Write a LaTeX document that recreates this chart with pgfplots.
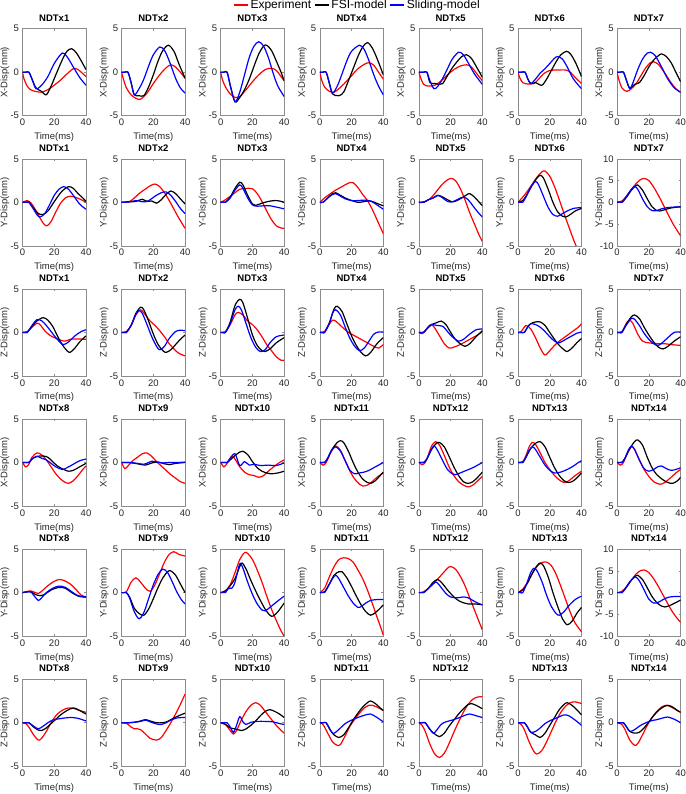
\documentclass[border=0pt]{standalone}
\usepackage{fontspec}
\setmainfont{Liberation Sans}
\usepackage{pgfplots}
\pgfplotsset{compat=1.18}
\definecolor{axgray}{gray}{0.55}
\pgfplotsset{
 panel/.style={
  scale only axis, width=63.5pt, height=87pt, anchor=south west,
  xmin=0, xmax=40, ymin=-5, ymax=5, xtick={0,20,40}, ytick distance=5,
  tick align=inside, major tick length=2pt,
  axis line style={axgray, line width=0.5pt},
  every tick/.style={axgray, line width=0.5pt},
  tick label style={font=\fontsize{9.5}{10}\selectfont, text=black!85},
  /pgf/number format/assume math mode=true,
  xlabel={Time(ms)},
  label style={font=\fontsize{9.5}{10}\selectfont, text=black!85},
  xlabel style={at={(axis description cs:0.5,0)}, anchor=center, yshift=-21.6pt},
  ylabel style={at={(axis description cs:0,0.5)}, anchor=center, yshift=17.5pt},
  title style={font=\bfseries\fontsize{9.5}{10}\selectfont, yshift=-2pt},
  every axis plot/.append style={line width=1.2pt, smooth, no markers},
  legend image code/.code={\draw[##1] (0pt,0pt) -- (14pt,0pt);},
 },
}
\newcommand{\panel}[8][]{%
 \begin{axis}[panel, at={({(22.5+99.1*#2)*1pt},{-(115.7+130.1*#3)*1pt})}, title={#4}, ylabel={#5}, #1]
 \addplot[red] coordinates {#6};
 \addplot[black] coordinates {#7};
 \addplot[blue] coordinates {#8};
 \end{axis}}
\begin{document}
\begin{tikzpicture}
\useasboundingbox (0pt,0pt) rectangle (685pt,-794pt);
% ---------------- Row 0 : X, NDTx1-7
\panel{0}{0}{NDTx1}{X-Disp(mm)}
{(0,0)(1,-0.8)(3,-1.6)(5,-2.0)(8,-2.2)(12,-2.3)(16,-2.0)(20,-1.5)(24,-0.9)(28,-0.2)(32,0.4)(35,0.3)(40,-0.5)}
{(0,0)(2,0)(4,0)(6,-0.8)(8.5,-1.8)(12,-2.2)(15,-2.6)(18,-1.6)(21,-0.3)(25,1.4)(28,2.4)(31,2.7)(34,2.2)(37,1.3)(40,0.3)}
{(0,0)(2,0)(4,0)(6,-0.8)(8.5,-1.9)(12,-1.5)(16,-0.5)(20,1.0)(25,2.2)(28,1.8)(32,0.6)(36,-0.6)(40,-1.5)}
\panel{1}{0}{NDTx2}{X-Disp(mm)}
{(0,0)(1,-0.7)(3,-1.8)(6,-2.6)(9,-3.0)(12,-3.1)(16,-2.4)(20,-1.3)(24,-0.3)(28,0.5)(31,0.85)(34,0.6)(37,0)(40,-0.7)}
{(0,0)(2,0)(4,0)(6,-1.2)(8,-2.6)(11,-2.7)(14,-2.7)(17,-1.7)(20,-0.3)(23,1.3)(26,2.5)(29.5,3.1)(33,2.4)(36,1.0)(40,-0.7)}
{(0,0)(2,0)(4,0)(6,-1.2)(8,-2.6)(11,-1.9)(14,-0.8)(17,0.7)(20,2.0)(24,2.9)(27,2.5)(30,1.3)(34,-0.7)(37,-1.8)(40,-2.4)}
\panel{2}{0}{NDTx3}{X-Disp(mm)}
{(0,0)(1,-0.8)(3,-1.7)(6,-2.5)(9,-2.9)(12,-2.8)(16,-2.0)(20,-1.1)(24,-0.3)(28,0.3)(32,0.45)(35,0.2)(38,-0.5)(40,-1.0)}
{(0,0)(2,0)(4,0)(6,-1.5)(9,-3.4)(12,-2.9)(15,-2.0)(18,-0.8)(21,0.7)(24,2.1)(27,3.0)(29,3.1)(32,2.5)(35,1.3)(38,0)(40,-1.0)}
{(0,0)(2,0)(4,0)(6,-1.5)(9,-3.4)(12,-2.3)(15,-0.3)(18,1.7)(21,3.0)(24,3.5)(27,3.0)(30,1.7)(33,-0.1)(36,-1.6)(40,-2.8)}
\panel[legend entries={Experiment,FSI-model,Sliding-model}, legend style={at={(0.594,1.272)}, anchor=center, draw=none, fill=none, legend columns=-1, font=\fontsize{12}{13}\selectfont, inner sep=0pt, /tikz/every even column/.append style={column sep=1pt}}]{3}{0}{NDTx4}{X-Disp(mm)}
{(0,0)(1,-0.8)(3,-1.7)(6,-2.2)(9,-2.3)(12,-1.9)(16,-1.2)(20,-0.4)(24,0.4)(28,0.9)(31,1.1)(34,0.8)(37,0)(40,-0.8)}
{(0,0)(2,0)(4,0)(6,-1.3)(8,-2.5)(12,-2.7)(15,-2.3)(18,-1.0)(21,0.4)(24,1.8)(27,2.9)(30,3.4)(33,2.8)(36,1.6)(40,-0.3)}
{(0,0)(2,0)(4,0)(6,-1.2)(8,-2.4)(11,-1.6)(14,-0.2)(17,1.3)(20,2.4)(25,3.1)(28,2.6)(31,1.3)(34,-0.3)(37,-1.6)(40,-2.6)}
\panel{4}{0}{NDTx5}{X-Disp(mm)}
{(0,0)(1,-0.6)(3,-1.4)(6,-1.6)(10,-1.5)(14,-1.0)(18,-0.3)(22,0.3)(26,0.7)(30,0.85)(33,0.6)(37,-0.3)(40,-1.0)}
{(0,0)(3,0)(5,0)(7,-1.2)(10,-1.3)(13,-1.4)(15,-1.3)(18,-0.4)(21,0.5)(24,1.2)(27,1.8)(30,2.0)(33,1.6)(36,0.7)(40,-0.6)}
{(0,0)(3,0)(5,0)(7,-1.0)(9.5,-1.9)(12,-1.6)(15,-0.7)(18,0.4)(21,1.5)(25,2.3)(28,2.0)(31,1.1)(35,-0.2)(40,-1.4)}
\panel{5}{0}{NDTx6}{X-Disp(mm)}
{(0,0)(1,-0.6)(3,-1.2)(6,-1.35)(10,-1.3)(13,-0.8)(16,-0.2)(20,0.2)(25,0.25)(30,0.25)(33,0)(36,-0.6)(40,-1.3)}
{(0,0)(2,0)(4.5,0)(6,-0.7)(8,-1.3)(11,-1.2)(15,-1.5)(18,-0.8)(21,0.2)(24,1.2)(27,2.0)(30.5,2.4)(33,2.1)(36,1.2)(40,-0.5)}
{(0,0)(2,0)(4.5,0)(6,-0.7)(8,-1.3)(11,-0.8)(14,-0.1)(17,0.4)(20,1.0)(23,1.6)(25,1.8)(28,1.5)(31,0.6)(35,-0.8)(40,-1.9)}
\panel{6}{0}{NDTx7}{X-Disp(mm)}
{(0,0)(1,-0.8)(3,-1.8)(6,-2.2)(9,-1.9)(12,-1.3)(15,-0.4)(18,0.5)(21,1.1)(23,1.2)(26,0.9)(30,-0.1)(34,-1.2)(37,-1.9)(40,-2.3)}
{(0,0)(2,0)(4,0)(6,-1.0)(8,-1.8)(11,-1.4)(14,-1.2)(17,-0.4)(20,0.6)(23,1.4)(26,1.9)(28,2.1)(31,1.8)(34,1.1)(37,0)(40,-1.1)}
{(0,0)(2,0)(4,0)(6,-1.0)(8,-1.9)(10,-1.2)(13,0.3)(16,1.5)(19,2.2)(21,2.3)(24,1.9)(28,0.6)(32,-0.8)(36,-1.8)(40,-2.3)}
% ---------------- Row 1 : Y, NDTx1-7
\panel{0}{1}{NDTx1}{Y-Disp(mm)}
{(0,0)(3,0.2)(5,0)(8,-0.8)(11,-1.8)(13.5,-2.5)(15.5,-2.7)(18,-2.2)(21,-1.1)(24,-0.1)(27,0.5)(30,0.7)(33,0.6)(37,0.3)(40,0)}
{(0,0)(2,0)(4,0)(7,-0.7)(10,-1.3)(13,-1.4)(16,-1.0)(19,-0.2)(22,0.6)(25,1.3)(29,1.8)(32,1.6)(35,1.0)(38,0.5)(40,0.1)}
{(0,0)(2,0)(4,0)(7,-0.8)(9,-1.4)(11,-1.7)(14,-1.3)(17,-0.3)(20,0.8)(23,1.5)(26,1.8)(29,1.5)(32,0.8)(36,-0.2)(40,-0.8)}
\panel{1}{1}{NDTx2}{Y-Disp(mm)}
{(0,0)(5,0.1)(8,0.5)(11,1.0)(14,1.4)(18,1.9)(21,2.1)(24,1.8)(27,1.1)(30,0.2)(33,-0.8)(36,-1.8)(40,-3.0)}
{(0,0)(5,0.05)(9,0.1)(13,0.35)(16,0.1)(19,0.15)(22,-0.1)(25,0.3)(28,0.9)(31,1.3)(34,1.0)(37,0.4)(40,-0.2)}
{(0,0)(5,0.05)(9,0.2)(12,0.1)(15,0.05)(18,0.3)(21,0.7)(25,1.1)(28,1.2)(31,0.8)(34,0.1)(37,-0.7)(40,-1.3)}
\panel{2}{1}{NDTx3}{Y-Disp(mm)}
{(0,0)(3,0.3)(6,0.7)(9,1.1)(12,1.5)(16,1.6)(20,1.55)(23,1.0)(26,0.1)(29,-1.0)(32,-2.0)(35,-2.7)(38,-2.95)(40,-3.0)}
{(0,0)(1.5,0)(3,0)(6,0.6)(9,1.6)(12,2.3)(14,2.0)(17,0.8)(20,-0.2)(22,-0.35)(26,-0.1)(30,0.1)(34,0.2)(37,0.15)(40,0)}
{(0,0)(1.5,0)(3,0)(6,0.5)(9,1.4)(12,2.0)(14,1.6)(17,0.5)(20,-0.3)(23,-0.45)(27,-0.4)(31,-0.4)(35,-0.55)(40,-0.75)}
\panel{3}{1}{NDTx4}{Y-Disp(mm)}
{(0,0)(3,0.5)(6,0.9)(10,1.4)(14,1.8)(18,2.2)(21,2.25)(24,1.7)(27,0.9)(30,0.2)(33,-0.8)(36,-2.0)(38,-2.8)(40,-3.6)}
{(0,0)(2,0)(5,0.5)(8,1.0)(10,1.1)(13,0.8)(16,0.5)(20,0.2)(24,0)(27,0.05)(30,0.15)(33,0.1)(37,-0.2)(40,-0.4)}
{(0,0)(2,0)(5,0.5)(8,0.9)(10,1.0)(13,0.7)(16,0.4)(20,0.2)(24,0.2)(28,0.25)(32,0.15)(36,-0.3)(40,-0.8)}
\panel{4}{1}{NDTx5}{Y-Disp(mm)}
{(0,0)(4,0.1)(7,0.4)(10,1.0)(13,1.7)(16,2.3)(20,2.75)(23,2.5)(26,1.6)(29,0.3)(32,-1.2)(35,-2.5)(38,-3.8)(40,-4.5)}
{(0,0)(3,0)(6,0.3)(9,0.5)(12,0.8)(15,0.6)(18,0.3)(21,0.05)(24,0.2)(27,0.5)(30,0.85)(32,1.0)(35,0.6)(38,0)(40,-0.4)}
{(0,0)(3,0)(6,0.3)(9,0.5)(12,0.8)(15,0.5)(18,0.1)(21,0.05)(24,0.3)(28,0.6)(31,0.3)(34,-0.4)(37,-1.1)(40,-1.7)}
\panel{5}{1}{NDTx6}{Y-Disp(mm)}
{(0,0)(3,0.6)(6,1.3)(9,2.1)(12,2.9)(15,3.5)(17,3.6)(20,3.0)(23,1.8)(26,0.3)(29,-1.3)(32,-2.8)(35,-4.3)(38,-5.6)(40,-6.3)}
{(0,0)(3,0.2)(6,1.0)(9,2.0)(12,2.8)(14,3.1)(16,2.8)(19,1.5)(22,0)(25,-1.1)(28,-1.6)(30,-1.7)(33,-1.4)(36,-1.0)(40,-0.7)}
{(0,0)(1.5,0)(3,0)(5,0.6)(8,1.7)(11,2.4)(13,2.0)(16,0.7)(19,-0.6)(22,-1.4)(25,-1.6)(28,-1.3)(31,-1.0)(35,-0.7)(40,-0.6)}
\panel[ymin=-10, ymax=10]{6}{1}{NDTx7}{Y-Disp(mm)}
{(0,0)(3,0.3)(6,1.5)(9,3.0)(12,4.3)(15,5.3)(17,5.5)(20,5.0)(23,3.5)(26,1.6)(29,-0.5)(32,-2.7)(35,-4.8)(38,-6.6)(40,-7.7)}
{(0,0)(1.5,0)(3,0)(6,1.2)(9,2.8)(12,3.9)(13,4.0)(16,2.8)(19,0.8)(22,-1.0)(25,-1.9)(27,-2.0)(30,-1.7)(34,-1.3)(40,-1.0)}
{(0,0)(1.5,0)(3,0)(5,0.8)(8,2.5)(11,3.6)(13,3.0)(16,0.8)(19,-1.0)(22,-1.9)(25,-1.9)(28,-1.5)(32,-1.2)(36,-1.1)(40,-1.1)}
% ---------------- Row 2 : Z, NDTx1-7
\panel{0}{2}{NDTx1}{Z-Disp(mm)}
{(0,0)(3,0.1)(6,0.6)(9,1.05)(11,0.9)(14,0.2)(17,-0.3)(20,-0.6)(24,-0.9)(27,-1.0)(30,-0.8)(35,-0.75)(40,-0.8)}
{(0,0)(1.5,0)(3,0)(6,0.7)(9,1.3)(13,1.7)(16,1.4)(19,0.7)(22,-0.4)(25,-1.4)(28,-2.1)(30,-2.3)(33,-1.8)(36,-1.1)(40,-0.4)}
{(0,0)(1.5,0)(3,0)(6,0.8)(9,1.45)(12,1.35)(15,0.8)(18,0.1)(21,-0.6)(24,-1.2)(26,-1.4)(29,-1.1)(33,-0.4)(37,0.1)(40,0.3)}
\panel{1}{2}{NDTx2}{Z-Disp(mm)}
{(0,0)(3,0.1)(6,0.8)(9,2.0)(12,2.6)(15,2.0)(18,1.3)(21,0.8)(24,0.2)(27,-0.5)(30,-1.3)(33,-1.9)(36,-2.4)(40,-2.7)}
{(0,0)(1.5,0)(3,0)(6,0.8)(9,2.2)(12,2.9)(14,2.6)(17,1.3)(20,-0.2)(23,-1.4)(26,-2.1)(28,-2.3)(31,-2.0)(34,-1.4)(37,-0.8)(40,-0.3)}
{(0,0)(1.5,0)(3,0)(6,0.8)(9,2.1)(11,2.5)(13,2.2)(16,0.9)(19,-0.5)(22,-1.6)(24,-2.0)(27,-1.6)(30,-0.7)(34,0.1)(37,0.25)(40,0.2)}
\panel{2}{2}{NDTx3}{Z-Disp(mm)}
{(0,0)(3,0.1)(6,0.9)(9,2.0)(11,2.3)(14,2.0)(17,1.3)(20,0.9)(23,0.3)(26,-0.5)(29,-1.4)(32,-2.1)(35,-2.8)(38,-3.2)(40,-3.2)}
{(0,0)(1.5,0)(3,0)(6,1.2)(9,3.1)(12,3.8)(14,3.4)(17,1.6)(20,-0.3)(23,-1.5)(26,-2.1)(28,-2.2)(31,-1.9)(35,-1.2)(40,-0.6)}
{(0,0)(1.5,0)(3,0)(6,1.0)(9,2.6)(11,3.0)(13,2.6)(16,1.0)(19,-0.6)(22,-1.7)(25,-2.2)(28,-2.0)(31,-1.2)(35,-0.5)(40,-0.3)}
\panel{3}{2}{NDTx4}{Z-Disp(mm)}
{(0,0)(3,0.1)(5,0.7)(8,1.4)(10,1.3)(13,0.8)(16,0.3)(19,-0.1)(22,-0.4)(25,-0.7)(28,-1.0)(31,-1.3)(34,-1.6)(37,-1.8)(40,-1.4)}
{(0,0)(1.5,0)(3,0)(6,1.1)(9,2.7)(11,3.0)(14,2.4)(17,1.0)(20,-0.4)(23,-1.5)(26,-2.3)(29,-2.7)(32,-2.3)(36,-1.3)(40,-0.6)}
{(0,0)(1.5,0)(3,0)(6,1.0)(8,2.2)(10,2.6)(13,2.0)(16,0.6)(19,-0.7)(22,-1.6)(25,-2.1)(28,-1.8)(31,-1.0)(34,-0.2)(37,0.05)(40,0.05)}
\panel{4}{2}{NDTx5}{Z-Disp(mm)}
{(0,0)(2,-0.15)(4,0.2)(6,0.7)(8,0.9)(10,0.5)(13,-0.4)(16,-1.3)(19,-1.8)(22,-1.7)(26,-1.4)(30,-1.0)(34,-0.6)(37,-0.3)(40,0.1)}
{(0,0)(1.5,0)(3,0)(5,0.4)(8,0.9)(11,1.1)(14,1.3)(17,0.9)(20,0)(23,-0.8)(26,-1.3)(29,-1.6)(32,-1.3)(36,-0.5)(40,0.2)}
{(0,0)(1.5,0)(3,0)(5,0.4)(8,0.9)(11,0.8)(15,0.7)(18,0.1)(21,-0.5)(25,-1.0)(28,-0.8)(32,-0.2)(36,0.3)(40,0.4)}
\panel{5}{2}{NDTx6}{Z-Disp(mm)}
{(0,0)(2,0.1)(5,0.8)(8,0.4)(11,-0.6)(14,-1.8)(17,-2.6)(20,-2.1)(23,-1.5)(26,-1.0)(29,-0.6)(32,-0.2)(35,0.2)(38,0.6)(40,1.0)}
{(0,0)(2,0)(4,0)(6,0.6)(8,1.0)(11,1.2)(14,1.2)(17,0.8)(20,0)(23,-0.8)(26,-1.5)(29,-2.0)(31,-2.2)(34,-1.8)(37,-1.2)(40,-0.7)}
{(0,0)(2,0)(4,0)(6,0.6)(8,1.0)(11,0.9)(14,0.6)(17,0.1)(20,-0.5)(23,-1.0)(26,-1.2)(30,-0.8)(34,-0.4)(37,-0.1)(40,0.05)}
\panel{6}{2}{NDTx7}{Z-Disp(mm)}
{(0,0)(3,0.1)(6,1.1)(8,1.4)(10,1.0)(13,-0.2)(16,-1.0)(20,-1.2)(25,-1.3)(30,-1.3)(34,-1.4)(37,-1.45)(40,-1.5)}
{(0,0)(1.5,0)(3,0)(6,1.0)(9,1.8)(11,2.0)(14,1.6)(17,0.6)(20,-0.3)(23,-1.1)(26,-1.7)(29,-1.9)(32,-1.6)(36,-1.0)(40,-0.5)}
{(0,0)(1.5,0)(3,0)(6,0.9)(9,1.6)(11,1.5)(14,0.8)(17,-0.1)(20,-0.8)(23,-1.3)(26,-1.5)(29,-1.1)(32,-0.6)(36,0)(40,0.05)}
% ---------------- Row 3 : X, NDTx8-14
\panel{0}{3}{NDTx8}{X-Disp(mm)}
{(0,0)(2,-0.5)(4,-0.2)(6,0.6)(9,1.1)(12,0.9)(15,0.3)(18,-0.5)(21,-1.3)(24,-1.9)(27,-2.3)(29,-2.4)(32,-2.1)(35,-1.5)(38,-0.8)(40,-0.4)}
{(0,0)(2,0)(4,0)(6,0.4)(9,0.7)(13,0.75)(16,0.6)(19,0.1)(22,-0.4)(26,-0.8)(29,-1.0)(32,-0.9)(36,-0.5)(40,-0.1)}
{(0,0)(2,0)(4,0)(6,0.4)(9,0.7)(12,0.5)(15,0.3)(18,-0.1)(21,-0.5)(25,-0.8)(28,-0.6)(32,-0.2)(36,0.2)(40,0.4)}
\panel{1}{3}{NDTx9}{X-Disp(mm)}
{(0,0)(2,-0.7)(4,-0.4)(7,0.2)(10,0.6)(13,1.0)(16,1.1)(19,0.7)(22,0.1)(25,-0.4)(28,-0.9)(31,-1.4)(34,-1.8)(37,-2.2)(40,-2.4)}
{(0,0)(5,0)(10,-0.15)(15,-0.3)(19,-0.05)(23,0.05)(27,-0.15)(30,-0.25)(34,-0.1)(40,0)}
{(0,0)(5,0)(10,-0.1)(14,-0.2)(17,0)(19,0.15)(22,0.05)(26,-0.05)(30,0)(35,0)(40,0.05)}
\panel{2}{3}{NDTx10}{X-Disp(mm)}
{(0,0)(2,-0.5)(4,-0.1)(7,0.7)(9,0.4)(12,-0.5)(15,-1.1)(18,-1.4)(21,-1.5)(24,-1.7)(27,-1.5)(30,-1.0)(34,-0.4)(37,0)(40,0.3)}
{(0,0)(2,0)(4,0)(6,0.3)(9,0.8)(12,1.2)(14,1.3)(17,0.9)(20,0.1)(23,-0.6)(26,-1.0)(29,-1.2)(32,-1.3)(36,-1.2)(40,-1.0)}
{(0,0)(2,0)(4,0)(6,0.5)(9,1.0)(12,-0.35)(15,0.1)(18,-0.3)(21,-0.2)(25,-0.35)(30,-0.3)(35,-0.35)(40,-0.05)}
\panel{3}{3}{NDTx11}{X-Disp(mm)}
{(0,0)(2,-0.3)(4,0)(7,1.2)(10,1.9)(13,1.4)(16,0.2)(19,-1.0)(22,-1.9)(25,-2.5)(27,-2.7)(30,-2.6)(33,-2.2)(36,-1.7)(40,-1.2)}
{(0,0)(1.5,0)(3,0)(5,0.5)(8,1.6)(11,2.3)(13,2.5)(15,2.3)(18,1.3)(21,0)(24,-1.1)(27,-1.9)(30,-2.3)(32,-2.4)(35,-2.1)(38,-1.5)(40,-1.1)}
{(0,0)(1.5,0)(3,0)(5,0.5)(7,1.3)(10,1.8)(13,1.3)(16,0.2)(19,-0.9)(22,-1.3)(25,-1.2)(28,-1.1)(31,-0.9)(34,-0.6)(37,-0.3)(40,0)}
\panel{4}{3}{NDTx12}{X-Disp(mm)}
{(0,0)(2,-0.25)(4,0)(6,0.9)(8,1.9)(10.5,2.4)(13,2.0)(16,0.8)(19,-0.5)(22,-1.5)(25,-2.2)(28,-2.6)(31,-2.8)(34,-2.6)(37,-2.1)(40,-1.6)}
{(0,0)(1.5,0)(3,0)(5,0.4)(8,1.5)(11,2.2)(13,2.3)(16,1.8)(19,0.7)(22,-0.5)(25,-1.5)(28,-2.2)(31,-2.4)(34,-2.2)(37,-1.7)(40,-1.1)}
{(0,0)(1.5,0)(3,0)(5,0.4)(7,1.2)(9.5,1.9)(12,1.3)(15,0.2)(18,-0.8)(21,-1.3)(23,-1.4)(26,-1.2)(30,-0.9)(34,-0.6)(37,-0.3)(40,0)}
\panel{5}{3}{NDTx13}{X-Disp(mm)}
{(0,0)(3,0.1)(5,0.8)(7,1.8)(9,2.3)(11,2.1)(14,1.1)(17,0)(20,-0.8)(23,-1.5)(26,-2.0)(29,-2.3)(32,-2.1)(36,-1.5)(40,-1.0)}
{(0,0)(1.5,0)(3,0)(5,0.6)(8,1.6)(11,2.2)(14,2.4)(17,1.8)(20,0.6)(23,-0.6)(26,-1.5)(29,-2.1)(32,-2.3)(35,-2.1)(38,-1.6)(40,-1.2)}
{(0,0)(1.5,0)(3,0)(5,0.6)(7,1.4)(9,1.8)(11,1.5)(14,0.6)(17,-0.3)(20,-0.9)(23,-1.2)(27,-1.1)(31,-0.8)(35,-0.4)(38,0)(40,0.2)}
\panel{6}{3}{NDTx14}{X-Disp(mm)}
{(0,0)(2,-0.3)(4,0)(6,0.9)(9,1.8)(11,1.5)(14,0.3)(17,-0.8)(20,-1.6)(23,-2.2)(27,-2.5)(30,-2.3)(34,-1.7)(37,-1.2)(40,-0.8)}
{(0,0)(1.5,0)(3,0)(5,0.5)(8,1.6)(11,2.4)(13,2.6)(16,2.0)(19,0.6)(22,-0.6)(25,-1.4)(29,-2.0)(32,-2.3)(35,-2.4)(38,-2.1)(40,-1.7)}
{(0,0)(1.5,0)(3,0)(5,0.5)(7,1.4)(9,1.9)(11,1.5)(14,0.3)(17,-0.7)(20,-1.0)(23,-0.8)(26,-0.45)(28,-0.4)(31,-0.7)(34,-0.9)(37,-0.8)(40,-0.6)}
% ---------------- Row 4 : Y, NDTx8-14
\panel{0}{4}{NDTx8}{Y-Disp(mm)}
{(0,0)(5,0.2)(8,0)(10,-0.1)(13,0.3)(16,0.8)(20,1.3)(23,1.5)(26,1.4)(30,1.0)(34,0.3)(37,-0.3)(40,-0.5)}
{(0,0)(5,0.1)(8,-0.2)(11,-0.35)(14,-0.2)(18,0.3)(23,0.6)(27,0.5)(31,0)(35,-0.4)(38,-0.5)(40,-0.5)}
{(0,0)(5,0.1)(7,-0.3)(10,-0.9)(12,-0.6)(15,0)(19,0.5)(23,0.75)(27,0.6)(31,0.1)(35,-0.35)(40,-0.5)}
\panel{1}{4}{NDTx9}{Y-Disp(mm)}
{(0,0)(3,0.1)(6,1.2)(9,1.7)(12,1.2)(15,0.5)(18,0.15)(21,0.9)(24,2.2)(27,3.5)(30,4.4)(33,4.7)(36,4.4)(40,4.2)}
{(0,0)(1.5,0)(3,0)(5,-0.5)(8,-1.8)(11,-2.4)(14,-2.6)(17,-1.9)(20,-0.7)(23,0.6)(26,1.7)(29,2.4)(31,2.5)(34,2.0)(37,1.0)(40,0)}
{(0,0)(1.5,0)(3,0)(5,-0.6)(8,-2.2)(11,-3.0)(14,-2.3)(17,-0.7)(20,0.9)(23,2.1)(26,2.7)(29,2.3)(32,1.2)(35,0)(38,-0.9)(40,-1.3)}
\panel{2}{4}{NDTx10}{Y-Disp(mm)}
{(0,0)(3,0.2)(6,0.9)(9,2.3)(12,3.8)(15,4.6)(17,4.5)(20,3.8)(23,2.6)(26,1.2)(29,-0.4)(32,-1.9)(35,-3.2)(38,-4.4)(40,-5.0)}
{(0,0)(3,0.2)(6,0.8)(9,1.6)(12,3.0)(13.5,3.4)(16,2.7)(19,1.4)(22,0.2)(25,-0.9)(28,-1.9)(31,-2.6)(33,-2.7)(36,-2.2)(40,-1.2)}
{(0,0)(1.5,0)(3,0)(5,0.5)(7,0.5)(9,1.2)(12,3.3)(14,2.8)(17,1.2)(20,-0.2)(23,-1.3)(26,-2.0)(28,-2.1)(31,-1.7)(35,-1.1)(40,-0.4)}
\panel{3}{4}{NDTx11}{Y-Disp(mm)}
{(0,0)(3,0.5)(6,1.8)(9,3.0)(12,3.8)(15,4.0)(18,3.9)(21,3.5)(24,2.6)(27,1.6)(30,0.3)(33,-1.2)(36,-2.8)(38,-3.8)(40,-4.9)}
{(0,0)(3,0.1)(6,1.0)(9,2.0)(12,2.4)(14,2.4)(17,1.7)(20,0.7)(23,-0.4)(26,-1.4)(29,-2.2)(32,-2.6)(35,-2.3)(38,-1.8)(40,-1.4)}
{(0,0)(1.5,0)(3,0)(5,0.6)(8,1.6)(10,2.0)(12,1.6)(15,0.6)(18,-0.4)(21,-1.2)(24,-1.7)(26,-1.6)(29,-1.2)(32,-0.9)(36,-0.8)(40,-0.8)}
\panel{4}{4}{NDTx12}{Y-Disp(mm)}
{(0,0)(3,0.1)(6,0.5)(9,1.0)(12,1.6)(15,2.2)(18,2.8)(20,3.0)(23,2.7)(26,1.9)(29,0.8)(32,-0.6)(35,-2.0)(38,-3.4)(40,-4.3)}
{(0,0)(1.5,0)(3,0)(6,0.5)(9,1.2)(12,1.5)(15,1.0)(18,0.3)(21,-0.3)(24,-0.8)(27,-1.1)(31,-1.3)(35,-1.3)(40,-1.4)}
{(0,0)(1.5,0)(3,0)(6,0.5)(9,1.0)(11,1.2)(14,0.6)(17,-0.1)(20,-0.5)(24,-0.6)(28,-0.5)(31,-0.6)(34,-0.9)(37,-1.2)(40,-1.4)}
\panel{5}{4}{NDTx13}{Y-Disp(mm)}
{(0,0)(3,0.4)(6,1.2)(9,2.2)(12,3.0)(15,3.45)(18,3.5)(21,3.1)(24,2.1)(27,0.7)(30,-0.8)(33,-2.3)(36,-3.5)(40,-4.5)}
{(0,0)(3,0.3)(6,1.1)(9,2.2)(12,3.1)(14,3.4)(16,3.1)(19,1.8)(22,0)(25,-1.6)(28,-3.0)(31,-3.7)(34,-3.3)(37,-2.4)(40,-1.7)}
{(0,0)(1.5,0)(3,0)(5,0.8)(8,2.3)(10,2.8)(12,2.5)(15,1.3)(18,-0.3)(21,-1.6)(24,-2.4)(26,-2.6)(29,-2.2)(32,-1.5)(36,-0.8)(40,-0.4)}
\panel[ymin=-10, ymax=10]{6}{4}{NDTx14}{Y-Disp(mm)}
{(0,0)(3,0.3)(6,1.4)(9,2.9)(12,4.3)(15,5.1)(17,5.2)(20,4.6)(23,3.2)(26,1.4)(29,-0.6)(32,-2.6)(35,-4.5)(38,-6.0)(40,-6.8)}
{(0,0)(1.5,0)(3,0)(6,1.3)(9,2.9)(12,3.9)(13,4.0)(16,3.0)(19,1.1)(22,-0.9)(25,-2.3)(28,-3.1)(30,-3.3)(33,-3.0)(37,-2.3)(40,-1.7)}
{(0,0)(1.5,0)(3,0)(5,0.8)(8,2.5)(11.5,3.6)(14,2.7)(17,0.6)(20,-1.5)(23,-2.4)(26,-2.2)(29,-1.6)(32,-1.1)(36,-0.9)(40,-0.9)}
% ---------------- Row 5 : Z, NDTx8-14
\panel{0}{5}{NDTx8}{Z-Disp(mm)}
{(0,0)(2,-0.1)(4,-0.5)(7,-1.4)(10,-2.0)(12,-1.8)(15,-1.0)(18,0)(21,0.8)(24,1.3)(27,1.6)(30,1.7)(33,1.6)(36,1.4)(40,1.2)}
{(0,0)(2,0)(4,0)(7,-0.5)(10,-0.85)(12,-0.9)(15,-0.6)(18,-0.1)(21,0.4)(24,0.9)(28,1.4)(32,1.7)(35,1.5)(38,1.2)(40,1.0)}
{(0,0)(2,0)(4,0)(7,-0.4)(10,-0.7)(13,-0.4)(16,0)(19,0.3)(23,0.45)(27,0.55)(31,0.6)(35,0.5)(40,0.2)}
\panel{1}{5}{NDTx9}{Z-Disp(mm)}
{(0,0)(3,-0.05)(6,-0.5)(8,-0.7)(10,-0.7)(12,-0.8)(15,-1.3)(18,-1.8)(22,-2.0)(25,-1.7)(28,-0.9)(31,0)(34,1.0)(37,2.1)(40,3.3)}
{(0,0)(5,0)(8,0.05)(12,0.2)(15,0.35)(18,0.2)(22,0)(26,0)(29,0.15)(32,0.45)(36,0.8)(40,1.1)}
{(0,0)(5,0)(8,0.05)(12,0.15)(15,0.3)(18,0.1)(22,-0.15)(25,-0.2)(28,0)(31,0.3)(35,0.55)(40,0.6)}
\panel{2}{5}{NDTx10}{Z-Disp(mm)}
{(0,0)(3,-0.2)(6,-0.9)(8,-1.3)(10,-0.9)(13,0.3)(16,1.3)(19,2.0)(22,2.3)(25,2.0)(28,1.3)(31,0.6)(34,-0.1)(37,-0.7)(40,-1.2)}
{(0,0)(3,-0.2)(6,-0.6)(9,-0.7)(13,-0.9)(16,-0.7)(19,-0.3)(22,0.2)(25,0.8)(28,1.3)(31,1.5)(34,1.3)(37,1.0)(40,0.6)}
{(0,0)(2,0)(4,0)(6,-0.5)(8,-1.1)(10,-0.3)(12,0.7)(14,0.1)(16,-0.2)(19,0.05)(23,0.15)(28,0.15)(33,0.1)(37,-0.1)(40,-0.2)}
\panel{3}{5}{NDTx11}{Z-Disp(mm)}
{(0,0)(2,-0.2)(5,-1.2)(8,-2.2)(11,-2.6)(13,-2.5)(16,-1.5)(19,-0.4)(22,0.4)(25,1.1)(28,1.7)(31,2.0)(33,2.0)(36,1.8)(40,1.4)}
{(0,0)(2,0)(4,0)(6,-0.7)(9,-1.4)(12,-1.7)(15,-1.4)(18,-0.6)(21,0.3)(24,1.1)(27,1.8)(30,2.3)(32,2.5)(35,2.2)(38,1.7)(40,1.4)}
{(0,0)(2,0)(4,0)(6,-0.6)(8,-1.2)(10,-1.1)(13,-0.6)(16,-0.1)(20,0.3)(24,0.6)(28,0.85)(32,1.0)(36,0.6)(40,0.1)}
\panel{4}{5}{NDTx12}{Z-Disp(mm)}
{(0,0)(2,-0.3)(4,-1.0)(7,-2.5)(10,-3.6)(13,-4.0)(16,-3.5)(19,-2.4)(22,-1.1)(25,0.1)(28,1.2)(31,2.1)(34,2.7)(37,2.95)(40,3.0)}
{(0,0)(2,0)(4,0)(7,-0.8)(10,-1.3)(13,-1.6)(16,-1.2)(19,-0.4)(22,0.3)(25,1.0)(28,1.6)(31,2.1)(33,2.2)(36,2.0)(40,1.6)}
{(0,0)(2,0)(4,0)(6,-0.5)(9,-1.2)(11,-0.9)(14,-0.2)(17,0.1)(21,0.3)(25,0.55)(29,0.85)(32,1.0)(36,0.8)(40,0.6)}
\panel{5}{5}{NDTx13}{Z-Disp(mm)}
{(0,0)(2,-0.2)(4,-0.8)(7,-2.2)(10,-3.3)(12,-3.6)(15,-3.2)(18,-2.2)(21,-1.0)(24,0.2)(27,1.2)(30,1.9)(33,2.3)(36,2.4)(40,2.2)}
{(0,0)(2,0)(4,0)(6,-0.5)(8,-1.1)(11,-1.4)(14,-1.7)(17,-1.2)(20,-0.3)(23,0.6)(26,1.5)(29,2.1)(31,2.3)(34,2.0)(37,1.5)(40,0.9)}
{(0,0)(2,0)(4,0)(6,-0.5)(8,-1.1)(11,-1.0)(14,-0.6)(17,-0.1)(21,0.3)(25,0.6)(29,0.9)(32,0.8)(36,0.3)(40,-0.3)}
\panel{6}{5}{NDTx14}{Z-Disp(mm)}
{(0,0)(3,-0.2)(5,-0.8)(8,-2.0)(11,-2.6)(13,-2.4)(16,-1.4)(19,-0.3)(22,0.6)(25,1.3)(28,1.8)(31,2.0)(34,1.8)(37,1.5)(40,1.2)}
{(0,0)(2,0)(4,0)(6,-0.5)(8,-1.0)(11,-1.2)(14,-1.1)(17,-0.6)(20,0.1)(23,0.8)(26,1.4)(29,1.8)(32,2.0)(35,1.8)(38,1.4)(40,1.2)}
{(0,0)(2,0)(4,0)(6,-0.5)(8,-1.0)(11,-0.8)(14,-0.4)(17,-0.1)(21,0.2)(25,0.35)(29,0.55)(32,0.65)(36,0.4)(40,0)}
\end{tikzpicture}
\end{document}
